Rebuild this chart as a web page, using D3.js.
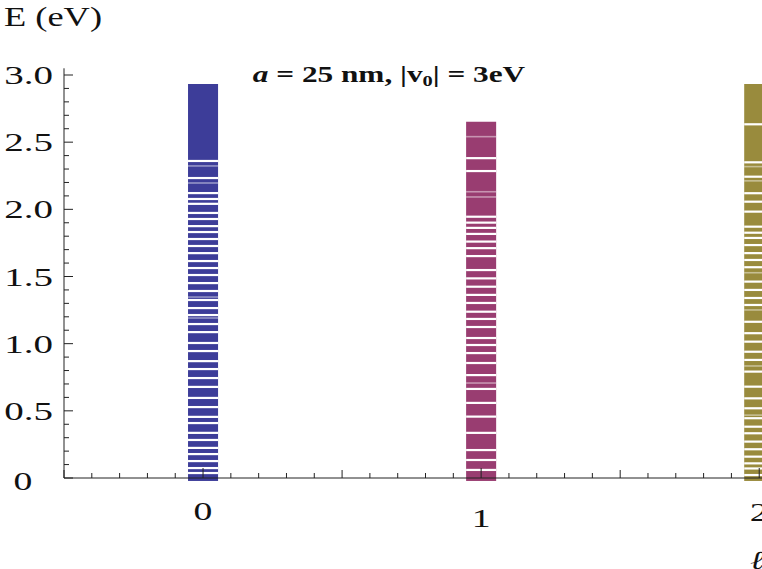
<!DOCTYPE html>
<html>
<head>
<meta charset="utf-8">
<script src="https://cdn.jsdelivr.net/npm/d3@7"></script>
<style>
  body { margin: 0; background: #fff; }
  svg { display: block; }
</style>
</head>
<body>
<div id="chart"></div>
<script>
// angular momentum values on the x axis
const ells = [0, 1, 2];
const ellLabels = ["0", "1", "2"];
const barColors = ["#3d3d99", "#993d71", "#998b3d"];

// top and bottom of each stack of levels (eV)
const bandTop = [2.933, 2.652, 2.933];
const bandBottom = [-0.022, -0.022, -0.022];

// white gaps between levels (eV)
const gaps0 = [2.360, 2.233, 2.121, 2.077, 2.041, 1.973, 1.928, 1.875, 1.831, 1.779, 1.727,
  1.674, 1.615, 1.563, 1.511, 1.451, 1.392, 1.325, 1.265, 1.213, 1.146, 1.086, 1.005, 0.945,
  0.870, 0.811, 0.744, 0.678, 0.596, 0.528, 0.455, 0.409, 0.336, 0.283, 0.224, 0.178, 0.126,
  0.074, 0.037];
const gaps1 = [2.381, 2.285, 1.945, 1.901, 1.862, 1.817, 1.760, 1.711, 1.652, 1.548, 1.486,
  1.424, 1.363, 1.303, 1.238, 1.184, 1.124, 1.042, 0.990, 0.930, 0.856, 0.766, 0.663, 0.559,
  0.457, 0.336, 0.208, 0.134, 0.060];
const gaps2 = [2.633, 2.350, 2.243, 2.120, 2.057, 1.983, 1.871, 1.826, 1.787, 1.734, 1.674,
  1.623, 1.569, 1.462, 1.400, 1.340, 1.288, 1.163, 1.078, 1.015, 0.940, 0.879, 0.792, 0.680,
  0.593, 0.519, 0.445, 0.382, 0.333, 0.271, 0.214, 0.159, 0.109, 0.071, 0.022];
// faint lines where two levels nearly touch (eV)
const light0 = [2.323, 2.196, 1.347, 1.191];
const light1 = [2.541, 2.131, 2.092, 0.707];
const light2 = [2.318, 2.212, 1.528, 1.251, 0.834, 0.468];

const gapSets = [gaps0, gaps1, gaps2];
const lightSets = [light0, light1, light2];

const yTickValues = [0, 0.5, 1.0, 1.5, 2.0, 2.5, 3.0];
const yTickLabels = ["0", "0.5", "1.0", "1.5", "2.0", "2.5", "3.0"];

const W = 762, H = 569;

const svg = d3.select("#chart").append("svg")
  .attr("width", W)
  .attr("height", H);

const x = d3.scaleLinear().domain([-0.5, 2.01]).range([64, 762]);
const y = d3.scaleLinear().domain([0, 3]).range([478, 75]);

const barHalf = 0.054;

// bars
ells.forEach((l, i) => {
  const g = svg.append("g");
  const bx = x(l - barHalf), bw = x(l + barHalf) - x(l - barHalf);
  g.append("rect")
    .attr("x", bx)
    .attr("width", bw)
    .attr("y", y(bandTop[i]))
    .attr("height", y(bandBottom[i]) - y(bandTop[i]))
    .attr("fill", barColors[i]);

  g.selectAll("rect.light")
    .data(lightSets[i])
    .enter().append("rect")
    .attr("class", "light")
    .attr("x", bx)
    .attr("width", bw)
    .attr("y", d => y(d) - 0.8)
    .attr("height", 1.6)
    .attr("fill", "#fff")
    .attr("opacity", 0.45);

  g.selectAll("rect.gap")
    .data(gapSets[i])
    .enter().append("rect")
    .attr("class", "gap")
    .attr("x", bx)
    .attr("width", bw)
    .attr("y", d => y(d) - 1.1)
    .attr("height", 2.2)
    .attr("fill", "#fff");
});

// axes
const axisG = svg.append("g").attr("stroke", "#222").attr("stroke-width", 1);

axisG.append("line")
  .attr("x1", x(-0.5)).attr("x2", W)
  .attr("y1", y(0)).attr("y2", y(0));
axisG.append("line")
  .attr("x1", x(-0.5)).attr("x2", x(-0.5))
  .attr("y1", y(0)).attr("y2", y(3.05));

// y ticks, minor every 0.1
const yTicks = d3.range(0, 31).map(k => k / 10);
axisG.selectAll("line.yt")
  .data(yTicks)
  .enter().append("line")
  .attr("x1", x(-0.5))
  .attr("x2", d => x(-0.5) + (Math.round(d * 10) % 5 === 0 ? 9 : 5))
  .attr("y1", d => y(d))
  .attr("y2", d => y(d));

// x ticks, minor every 0.1
const xTicks = d3.range(-5, 21).map(k => k / 10);
axisG.selectAll("line.xt")
  .data(xTicks)
  .enter().append("line")
  .attr("x1", d => x(d))
  .attr("x2", d => x(d))
  .attr("y1", y(0))
  .attr("y2", d => {
    const k = Math.round(d * 10);
    const len = k % 10 === 0 ? 10 : (k % 5 === 0 ? 8 : 5);
    return y(0) - len;
  });

// text helper, the picture's text is widened horizontally
function label(txt, px, py, size, anchor, stretch, italic) {
  const t = svg.append("text")
    .attr("transform", `translate(${px},${py}) scale(${stretch},1)`)
    .attr("font-family", "'Liberation Serif', 'Times New Roman', serif")
    .attr("font-size", size)
    .attr("text-anchor", anchor)
    .attr("fill", "#111")
    .text(txt);
  if (italic) t.attr("font-style", "italic");
  return t;
}

yTickValues.forEach((v, i) => {
  if (v === 0) {
    label(yTickLabels[i], 23, y(v) + 12, 26, "middle", 1.45);
  } else {
    label(yTickLabels[i], 53, y(v) + 9, 26, "end", 1.5);
  }
});

const xLabelBase = [520, 527, 521];
ells.forEach((l, i) => {
  label(ellLabels[i], x(l), xLabelBase[i], 26, "middle", 1.45);
});

label("E (eV)", 4, 26, 28, "start", 1.3);
label("\u2113", 757, 569, 26, "middle", 1.3, true);

// title
const title = svg.append("text")
  .attr("transform", "translate(389,82) scale(1.36,1)")
  .attr("font-family", "'Liberation Serif', 'Times New Roman', serif")
  .attr("font-size", 23)
  .attr("font-weight", "bold")
  .attr("text-anchor", "middle")
  .attr("fill", "#111");
title.append("tspan").attr("font-style", "italic").text("a");
title.append("tspan").text(" = 25 nm, |");
title.append("tspan").text("v");
title.append("tspan").attr("font-size", 15).attr("dy", 4).text("0");
title.append("tspan").attr("dy", -4).text("| = 3eV");
</script>
</body>
</html>
